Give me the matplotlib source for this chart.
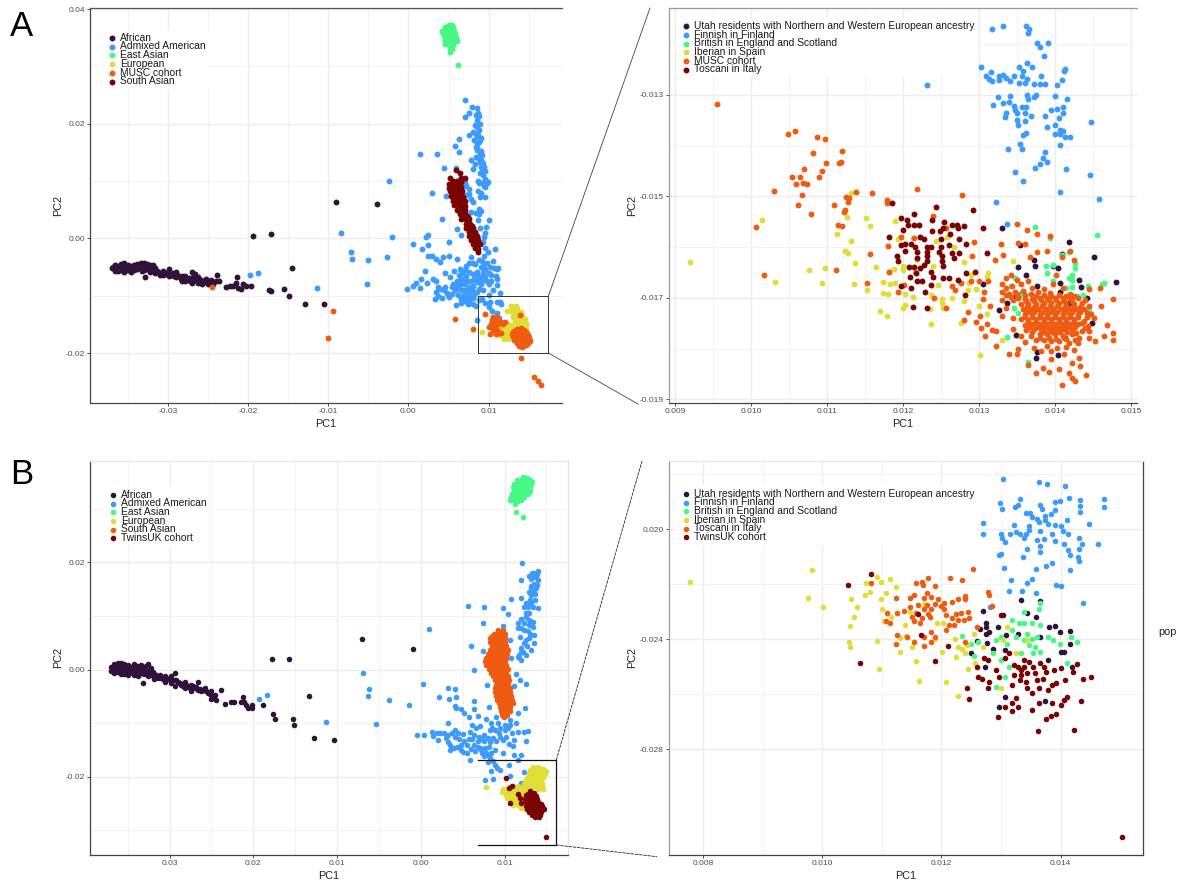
import matplotlib
matplotlib.use('Agg')
import matplotlib.pyplot as plt
from matplotlib.lines import Line2D
import numpy as np

plt.rcParams['font.family'] = ['Liberation Sans', 'DejaVu Sans']

# all PC values below are read off the picture, in units of 0.001
# panel A, overview
a_african = [(-37,-5.1),(-36.6,-4.6),(-36.6,-5.6),(-36.2,-4.8),(-36.2,-5.7),(-35.8,-4.4),(-35.8,-5.3),(-35.4,-4.3),(-35.4,-5),(-35.4,-5.8),(-35,-4.6),(-35,-5.5),(-34.6,-4.8),(-34.6,-5.8),(-34.2,-4.6),(-34.2,-5.5),(-33.8,-4.5),(-33.8,-5.3),(-33.4,-4.3),(-33.4,-5.2),(-33,-4.3),(-33,-5.5),(-32.6,-4.4),(-32.6,-5.4),(-32.9,-6.8),(-32.2,-4.6),(-32.2,-5.8),(-31.8,-4.7),(-31.8,-5.6),(-31.4,-5.6),(-31,-6.3),(-30.6,-5.6),(-30.6,-6.4),(-30.2,-6),(-29.8,-5.3),(-29.8,-6.6),(-29.4,-6.1),(-29,-5.8),(-29,-6.8),(-28.6,-6.5),(-28.2,-6.6),(-28.2,-7.4),(-27.8,-6.5),(-27.8,-7.5),(-27.4,-6.9),(-27,-5.9),(-27,-7.7),(-26.6,-6.2),(-26.6,-7.3),(-26.2,-6.8),(-26.2,-7.7),(-25.7,-7.9),(-25.2,-7),(-25,-8),(-24.6,-7.2),(-24.4,-8),(-24,-7.4),(-23.9,-6.4),(-23.6,-7.5),(-22.8,-8.4),(-22.3,-8.3),(-21.9,-8.3),(-21.5,-7.8),(-21.2,-8.6),(-21.4,-6.8),(-20.9,-8.9),(-20.6,-8),(-20.2,-8.3),(-19.6,-8.3),(-17.4,-9),(-17.1,-9.2),(-15.5,-8.9),(-14.9,-10),(-12.9,-11.4),(-10.5,-11.4),(-14.5,-5.1),(-19.4,0.4),(-17.1,0.7),(-9,6.3),(-3.9,6)]
a_african_core = [(-36.8,-5),(-36.4,-5.2),(-36,-5),(-35.6,-4.8),(-35.6,-5.7),(-35.2,-5.2),(-34.8,-5.1),(-34.4,-5.2),(-34,-5),(-33.6,-4.9),(-33.2,-4.8),(-33.2,-5.6),(-32.8,-4.9),(-32.4,-5),(-32,-5.2),(-31.6,-5.2),(-31.6,-6),(-31.2,-5.9),(-30.8,-6),(-30.4,-6.2),(-30,-6),(-29.6,-6.3),(-29.2,-6.5),(-28.8,-6.3),(-28.4,-7),(-28,-7),(-27.6,-7),(-27.2,-7.4),(-26.8,-6.8),(-26.4,-7.2),(-25.9,-7.3),(-25.5,-7.6),(-24.8,-7.6)]
a_admixed = [(-19.7,-6.4),(-18.7,-6.1),(-11.4,-8.6),(-8.4,1),(-7.2,-2.4),(-7,-3.6),(-5.1,-3.8),(-5.2,-8),(-2.7,-3.2),(-2.1,0.3),(-2.4,10),(-0.2,-8.9),(0.6,-8.3),(0.6,-1),(1,-7.7),(1.4,14.8),(1.5,-8.7),(1.6,-7),(1.7,-1.9),(2.1,-5.6),(2.2,0.2),(2.4,0.6),(2.4,-1.2),(2.3,-7.8),(2.5,-3),(2.9,-3),(3,8),(3.6,14.8),(3.1,-7),(3.5,-3.5),(3.4,-7.5),(3.7,-8.4),(4.2,3.4),(4,-4.1),(4.4,12.3),(4.3,-3.2),(4.6,-6.1),(4.7,7.4),(5,-3),(5,-0.6),(5.2,-6.7),(3.3,-10.6),(4.2,-10.4),(3.5,-9.4),(4.4,-9),(4.9,-9.9),(5.4,-8.4),(5.6,-7.9),(5.7,-5.6),(5.8,16.1),(5.9,12.3),(5.9,-11.6),(6,-3.5),(6.1,1.7),(6.2,-9.9),(6.3,15),(6.3,17.3),(6.4,-5.4),(6.5,-9),(6.6,0.6),(6.9,-7),(7.1,24.2),(7.1,21.2),(7.2,-10.4),(7.5,-4.3),(7.5,18),(7.6,21.9),(7.7,-8.4),(7.8,-3.3),(7.8,13.7),(7.9,22.9),(8,12.2),(8.2,-7),
    (8.5,22.7),(8.4,21.5),(8.8,21.3),(8.3,19.8),(8.6,19.4),(8.9,20),(8.1,18.6),(8.4,18.2),(9,17.5),(8.7,18),(8.2,17.2),(8.5,16.5),(8.8,16.9),(8.4,15.9),(8.6,15.4),(8.9,14.7),(8.4,14.2),(9.2,14.5),(8.9,13.4),(8.3,13),(9.3,13.2),(9,12.5),(9.6,11.7),(8.9,11.4),(9.3,11),(9.5,10.4),(8.7,10),(9.2,9.7),(9.8,9.6),(9.5,8.9),(8.7,8.3),(9,8),(9.6,7.2),(9.9,9.9),(8.8,5.2),(7,9.8),(7.2,9.2),(7.5,8.6),(7.6,7.8),(7.8,6.9),(8,6.4),(8.4,4.5),(8.8,4.3),(9,4.8),(8.7,3.2),(10,3.3),(9.7,2),(8.9,1.8),(9.6,1),(9.4,0.3),(9.3,-0.7),(9.5,-1.6),(10.8,-1.8),(9.9,-2.3),
    (6.5,-7),(7,-5.5),(7.2,-6.5),(7.5,-9.5),(7.8,-7.5),(8,-6.2),(8.2,-9.8),(8.3,-4.5),(8.5,-5.8),(8.6,-7.6),(8.8,-3.7),(8.8,-8.8),(9,-5),(9,-6.7),(9.2,-4),(9.2,-10.5),(9.4,-3),(9.5,-7.3),(9.6,-5.4),(9.8,-4.2),(10,-6),(10,-8),(10.3,-6.3),(10.5,-4),(10.5,-9),(10.7,-5.2),(10.9,-6.5),(11,-5.4),(11.2,-5.1),(11.1,-7),(11,-8.1),(11.4,-9.5),(10.2,-11),(11.1,-11),(11.4,-11),(6.5,-10.5),(6.8,-9),(7.1,-10.9),(7.6,-11),(8,-11.5),(8.4,-11.8),(8.8,-10.8),(9.6,-11.3),(10,-12),(10.4,-12.6),(11,-13),(11.3,-13.9),(8.6,-14.3),(11,-14),(10.7,-14),(11.5,-11.5)]
a_admixed_core = [(3.7,-10),(4,-8.8),(4.6,-8.4),(4.8,-9.5),(5.1,-10.2),(5.4,-9.6),(5.8,-9),(5.9,-8.1),(6.1,-7.5),(6.2,-8.6),(6.3,-6.4),(6.6,-8),(6.7,-6),(6.8,-10),(7,-8),(7.1,-9.4),(7.3,-8.9),(7.4,-7.4),(7.6,-5.8),(7.7,-10.2),(7.9,-9),(8,-8.3),(8.1,-10.4),(8.3,-7.2),(8.5,-9.4),(8.7,-6.5),(8.9,-7.4),(9.1,-8),(9.3,-5.8),(9.3,-9),(9.6,-6.6),(9.8,-7.5),(10.2,-5),(10.3,-7.4),(10.1,-9.8),(9.4,-4.5),(8,-4.2),(7.2,-4.8),(6.6,-11.3),(7.4,-11.4),(8.7,21.9),(8.5,20.6),(8.8,19),(8.5,17.8),(8.9,17.2),(8.6,15.9),(9,15.2),(8.7,14),(9.1,13.7),(9.4,12.5),(9.2,11.7),(8.8,9.6),(9.4,9.2),(8.9,7.3),(7.2,7.6),(7.8,4.6)]
a_east = [(5,37.3),(5.4,37.3),(4.6,36.8),(5.2,36.8),(5.6,36.8),(4.2,36.2),(4.7,36.2),(5.2,36.2),(5.7,36.2),(4.3,35.6),(4.8,35.6),(5.3,35.6),(5.8,35.6),(4.5,35),(5,35),(5.5,35),(5.9,35),(4.6,34.4),(5.1,34.4),(5.6,34.4),(6,34.4),(4.5,33.9),(5,33.9),(5.6,33.8),(5.2,33.3),(5.4,33),(5.2,32.5),(6.2,30.3),(4.9,36.5),(5.4,36.5),(4.5,35.9),(5,35.9),(5.5,35.9),(4.6,35.3),(5.1,35.3),(5.6,35.3),(4.8,34.7),(5.3,34.7),(5.8,34.7),(4.8,34.2),(5.3,34.1)]
a_european = [(12.8,-11.8),(13.4,-11.8),(13,-12.3),(13.6,-12.2),(12.3,-12.7),(12.8,-12.7),(13.4,-12.8),(14,-12.8),(13.6,-13.3),(14.2,-13.4),(13.5,-14),(14,-14),(14.5,-14),(13.6,-14.7),(14.2,-14.7),(14.6,-15),(13.4,-15),(14,-15.3),(14.7,-15.6),(11.4,-15.2),(11.9,-14.9),(12.4,-14.9),(12.9,-15.1),(11.2,-15.8),(11.7,-15.6),(12.2,-15.6),(12.7,-15.6),(13.2,-15.7),(11.1,-16.4),(11.6,-16.3),(12.1,-16.3),(12.6,-16.3),(13.1,-16.3),(11.3,-16.9),(11.8,-17),(12.3,-17),(12.8,-16.9),(11.9,-17.6),(12.4,-17.5),(14.9,-16.8),(15,-17.3),(9.2,-16.3),(11.5,-15.9),(12,-15.9),(12.5,-15.9),(13,-15.9),(11.4,-16.6),(11.9,-16.6),(12.4,-16.6),(12.9,-16.6),(12,-15.3),(12.5,-15.3),(13,-15.5),(13.1,-13.7),(13.8,-13.7),(13.3,-14.4),(13.8,-14.4),(14.3,-14.4),(13.1,-12.5),(13.6,-12.7),(13.2,-13.2),(13.8,-15),(14.3,-15.4),(12,-17.3)]
a_musc = [(-24.5,-8.5),(-9.4,-12.6),(-10,-17.3),(5.8,-14),(8,-15.8),(9.6,-13.2),(13.9,-13.3),(14.1,-20.9),(15.6,-24.1),(16.2,-24.9),(16.5,-25.6),(10.2,-16.6),(10.5,-13.7),(11,-13.7),(10.4,-14.3),(10.9,-14.6),(11.5,-14.5),(12.1,-14.6),(10.3,-15),(10.8,-15.3),(10,-15.5),(10.6,-15.9),(11.1,-16),(11.6,-16.5),(10.9,-16.6),(13.6,-15.8),(14.1,-15.7),(13.2,-16.2),(13.7,-16.2),(14.2,-16.2),(14.6,-16.3),(12.9,-16.7),(13.4,-16.7),(13.9,-16.7),(14.4,-16.7),(14.9,-16.8),(13,-17.2),(13.5,-17.2),(14,-17.2),(14.5,-17.2),(15,-17.3),(13.2,-17.7),(13.7,-17.7),(14.2,-17.7),(14.7,-17.7),(15.1,-17.8),(13.5,-18.2),(14,-18.2),(14.5,-18.2),(14.9,-18.2),(13.8,-18.7),(14.3,-18.8),(14.6,-18.6),(14.2,-19),(13.4,-16),(13.9,-16),(14.4,-16),(13.1,-16.4),(13.6,-16.5),(14.1,-16.5),(14.6,-16.6),(13.2,-17),(13.7,-17),(14.2,-17),(14.7,-17),(13.4,-17.45),(13.9,-17.45),(14.4,-17.45),(14.9,-17.5),(13.7,-18),(14.2,-18),(14.7,-18),(14.1,-18.5),(14.6,-18.3),(10.7,-14),(11.2,-14.2),(10.6,-14.8),(11.2,-14.9),(11.8,-15),(10.3,-15.5),(10.9,-16),(10.6,-15.3),(11.3,-16.5)]
a_south = [(5.9,11.9),(6.4,11.5),(7.1,10.6),(5.2,10.5),(6.5,10.6),(5.1,9.5),(5.6,10),(6.1,10),(6.6,9.8),(5,8.8),(5.5,9),(6,9),(6.5,9),(5.2,8.2),(5.7,8.2),(6.2,8.2),(6.7,8.2),(5.3,7.4),(5.8,7.4),(6.3,7.4),(6.8,7.3),(5.5,6.6),(6,6.6),(6.5,6.6),(7,6.5),(5.7,5.8),(6.2,5.8),(6.7,5.8),(7.1,5.6),(6.1,5),(6.6,5),(7.1,4.9),(6.4,4.2),(6.9,4.2),(7.3,4),(6.6,3.4),(7.1,3.4),(7.6,3.4),(7.2,2.6),(7.7,2.6),(7.2,1.9),(7.7,1.9),(8.1,1.8),(7.5,1.2),(8,1.2),(8.3,1.2),(7.6,0.5),(8.1,0.5),(8.5,0.5),(7.8,-0.2),(8.3,-0.2),(8.7,-0.2),(8.1,-1),(8.6,-1),(8.9,-1),(8.3,-1.7),(8.7,-1.8),(8.7,-2.3),(5.4,9.7),(5.9,9.5),(6.4,9.5),(5.2,9),(5.7,8.6),(6.2,8.6),(6.6,8.6),(5.4,7.8),(5.9,7.8),(6.5,7.8),(5.6,7),(6.2,7),(6.7,7),(5.9,6.2),(6.4,6.2),(6.9,6.2),(6.4,5.4),(6.9,5.4),(6.6,4.6),(7.1,4.5),(6.9,3.8),(7.4,3.7),(7.4,3),(7.5,2.2),(7.9,2.2),(7.8,1.5),(7.9,0.9),(8.3,0.9),(8.1,0.2),(8.5,0.2),(8.4,-0.6),(8.7,-0.6),(8.5,-1.4)]

# panel A, zoomed in
az_utah = [(13.3,-15.63),(14.19,-15.89),(13.54,-15.95),(14.09,-16.13),(14.52,-16.2),(13.72,-16.26),(13.52,-16.39),(13.74,-16.37),(13.98,-16.38),(14.04,-16.42),(14.32,-16.64),(14.8,-16.69),(13.62,-16.54),(13.05,-16.72),(14.07,-16.71),(13.77,-16.76),(14.34,-16.79),(13.55,-16.92),(13.47,-16.98),(14.07,-16.89),(13.37,-17.1),(14.19,-17.11),(14.42,-17.01),(13.27,-17.23),(14.49,-17.5),(13.49,-17.74),(14.13,-17.79),(13.76,-18.07),(13.75,-18.18),(14.04,-18.13)]
az_finnish = [(13.17,-11.71),(13.32,-11.65),(13.62,-11.64),(13.66,-11.71),(13.65,-11.79),(13.77,-11.97),(13.91,-11.97),(13.8,-12.06),(13.86,-12.24),(12.51,-12.32),(13.63,-12.37),(13.03,-12.46),(13.53,-12.46),(13.7,-12.46),(12.88,-12.52),(14.13,-12.49),(14.12,-12.54),(13.16,-12.56),(13.32,-12.6),(13.58,-12.54),(13.09,-12.63),(13.26,-12.62),(13.46,-12.62),(13.57,-12.62),(13.81,-12.63),(13.13,-12.69),(13.26,-12.7),(13.35,-12.67),(13.41,-12.73),(13.63,-12.69),(14.09,-12.7),(13.17,-12.73),(13.53,-12.76),(13.6,-12.77),(13.73,-12.79),(13.8,-12.79),(13.87,-12.79),(14.03,-12.8),(12.32,-12.81),(13.25,-13.05),(13.41,-13.03),(13.63,-13.01),(13.73,-13.05),(13.75,-13),(14,-13.02),(13.65,-13.08),(14.16,-13.08),(13.32,-13.16),(13.4,-13.15),(13.19,-13.2),(13.46,-13.22),(13.57,-13.24),(13.62,-13.24),(13.48,-13.29),(13.95,-13.29),(14.03,-13.27),(14.1,-13.24),(13.35,-13.35),(13.5,-13.36),(13.6,-13.36),(13.87,-13.41),(14.11,-13.35),(13.34,-13.44),(13.69,-13.42),(14.05,-13.45),(13.5,-13.5),(13.61,-13.51),(14.47,-13.54),(13.51,-13.6),(14,-13.59),(13.89,-13.63),(14.07,-13.69),(14.1,-13.71),(13.62,-13.75),(13.58,-13.8),(14,-13.78),(14.06,-13.78),(14.13,-13.84),(14.2,-13.84),(14.06,-13.99),(13.54,-13.96),(13.56,-14.06),(13.38,-14.07),(13.87,-14.12),(13.84,-14.24),(13.89,-14.33),(13.8,-14.37),(13.74,-14.44),(14.15,-14.46),(13.48,-14.52),(14.46,-14.57),(13.58,-14.69),(14.07,-14.92),(14.58,-15.05),(13.23,-15.11),(13.37,-15.54)]
az_british = [(13.74,-15.6),(13.93,-15.82),(14.56,-15.76),(14.09,-16.15),(14.19,-16.1),(13.88,-16.38),(13.97,-16.35),(14.27,-16.31),(14.27,-16.42),(13.89,-16.51),(14.22,-16.54),(14.18,-16.61),(14.23,-16.64),(13.47,-16.61),(13.97,-16.67),(14.15,-16.8),(14.22,-16.78),(13.42,-16.77),(14.44,-16.76),(14.62,-16.72),(14.65,-16.71),(14.37,-16.94),(14.29,-16.97),(13.57,-16.93),(13.46,-17.2),(13.52,-17.3),(14.45,-17.23),(13.37,-17.77),(13.65,-18.27)]
az_iberian = [(9.2,-16.3),(10.15,-15.47),(10.32,-16.69),(10.76,-16.46),(10.97,-16.41),(10.93,-16.7),(11.31,-14.93),(11.26,-15.41),(11.51,-15.43),(11.57,-15.58),(11.13,-15.74),(11.31,-15.87),(11.24,-16.07),(11.27,-16.12),(11.37,-16.31),(11.64,-16.39),(11.9,-15.48),(11.94,-15.84),(12.13,-15.82),(11.35,-16.73),(11.53,-16.84),(11.74,-16.68),(11.74,-16.9),(11.8,-16.93),(11.83,-16.73),(11.9,-16.71),(11.81,-16.48),(11.88,-16.43),(12,-16.37),(12,-16.45),(12.18,-16.25),(12.39,-16.37),(12.16,-16.48),(12.03,-16.92),(12.13,-16.99),(12,-17.2),(12.03,-17.13),(11.7,-17.26),(11.79,-17.36),(12.37,-17.52),(12.35,-17.22),(12.51,-17.03),(12.51,-17.1),(12.52,-17.2),(12.64,-17),(12.46,-16.74),(12.37,-16.94),(12.8,-17.07),(12.85,-16.84),(12.96,-16.83),(12.87,-16.71),(12.9,-16.55),(13.1,-16.58),(13.12,-16.51),(13,-17.15),(13.1,-17.31),(12.76,-17.5),(13.01,-18.13),(13.3,-17.83),(12.44,-15.87),(12.58,-15.8),(12.67,-15.99),(12.8,-16.3),(13.45,-16.27)]
az_musc = [(9.55,-13.18),(10.49,-13.78),(10.58,-13.71),(10.87,-13.84),(10.97,-13.88),(11.2,-14.11),(10.82,-14.14),(11.16,-14.34),(11.18,-14.32),(10.98,-14.35),(10.7,-14.46),(10.94,-14.51),(10.54,-14.61),(10.64,-14.61),(10.89,-14.62),(10.59,-14.76),(10.68,-14.73),(10.74,-14.75),(10.3,-14.89),(10.67,-14.97),(11.38,-14.92),(11.25,-15.01),(11.29,-15.04),(11.59,-14.94),(12.19,-14.86),(12.78,-14.97),(11.79,-15.07),(11.79,-15.14),(11.27,-15.11),(10.62,-15.17),(11.09,-15.17),(11.24,-15.27),(11.22,-15.3),(10.79,-15.35),(12.39,-15.38),(10.07,-15.61),(11.14,-15.56),(11.2,-15.58),(12.57,-15.62),(13.5,-15.54),(13.63,-15.67),(13.76,-15.75),(13.93,-15.78),(12.14,-15.82),(11.98,-15.8),(11.8,-15.97),(12.93,-15.9),(13.29,-15.93),(13.52,-15.91),(13.6,-15.94),(13.76,-16.1),(13.9,-16.07),(14.2,-16.07),(11.57,-16.14),(12.91,-16.18),(13.21,-16.25),(13.31,-16.16),(13.67,-16.2),(14.09,-16.2),(14.25,-16.25),(10.17,-16.55),(11.12,-16.46),(11.82,-16.49),(11.52,-16.7),(11.93,-16.88),(12.01,-16.75),(12.41,-17),(12.57,-17.2),(12.64,-16.76),(12.68,-16.84),(12.76,-16.71),(12.89,-16.67),(13,-16.67),(13.07,-16.89),(13.12,-16.67),(13.05,-17.03),(13.14,-17.15),(12.85,-17.28),(13.02,-17.36),(12.8,-17.43),(12.96,-17.47),(13.1,-17.52),(13.03,-17.59),(13.17,-17.64),(13.22,-17.66),(13.08,-17.75),(13.23,-17.95),(13.39,-18.11),(13.5,-18.11),(13.52,-18.01),(13.65,-18.33),(13.75,-18.48),(13.84,-18.38),(13.92,-18.46),(13.95,-18.21),(14.05,-18.4),(14.09,-18.71),(14.19,-18.47),(14.22,-18.57),(14.27,-18.64),(14.22,-18.29),(14.33,-18.34),(14.41,-18.51),(14.32,-18.18),(14.53,-17.85),(14.64,-17.75),(14.76,-17.7),(14.76,-17.82),(14.76,-17.03),(14.68,-17.54),(14.61,-17.15),(14.59,-16.81),(14.52,-17.39),(14.45,-16.83),
    (13.35,-16.6),(13.42,-16.55),(13.5,-16.65),(13.3,-16.72),(13.36,-16.8),(13.44,-16.76),(13.55,-16.72),(13.65,-16.66),(13.7,-16.8),(13.3,-16.88),(13.4,-16.92),(13.48,-16.88),(13.58,-16.86),(13.68,-16.92),(13.78,-16.88),(13.86,-16.82),(13.93,-16.9),(14.02,-16.55),(13.98,-16.72),(14.1,-16.8),(14.2,-16.92),(14.3,-17),(14.4,-17.05),(13.45,-17.05),(13.52,-17),(13.6,-17.02),(13.7,-17.02),(13.8,-17),(13.9,-17),(14,-17),(14.1,-17),(14.2,-17.02),(14.35,-17.1),(13.55,-17.12),(13.65,-17.12),(13.75,-17.12),(13.85,-17.1),(13.95,-17.1),(14.05,-17.1),(14.15,-17.12),(14.25,-17.12),(14.45,-17.15),(13.35,-17.2),(13.58,-17.22),(13.68,-17.22),(13.78,-17.22),(13.88,-17.22),(13.98,-17.22),(14.08,-17.22),(14.18,-17.22),(14.28,-17.22),(14.38,-17.22),(13.3,-17.35),(13.45,-17.4),(13.6,-17.32),(13.7,-17.32),(13.8,-17.32),(13.9,-17.32),(14,-17.32),(14.1,-17.32),(14.2,-17.32),(14.3,-17.32),(14.48,-17.32),(13.55,-17.42),(13.65,-17.44),(13.75,-17.42),(13.85,-17.42),(13.95,-17.42),(14.05,-17.42),(14.15,-17.42),(14.25,-17.42),(14.38,-17.45),(13.6,-17.54),(13.7,-17.52),(13.8,-17.52),(13.9,-17.52),(14,-17.52),(14.1,-17.52),(14.2,-17.52),(14.3,-17.52),(14.44,-17.55),(13.45,-17.62),(13.62,-17.64),(13.72,-17.62),(13.82,-17.62),(13.92,-17.62),(14.02,-17.62),(14.12,-17.62),(14.22,-17.62),(14.35,-17.65),(14.45,-17.65),(13.55,-17.75),(13.68,-17.75),(13.8,-17.72),(13.9,-17.72),(14,-17.72),(14.1,-17.75),(14.22,-17.72),(14.32,-17.78),(14.45,-17.78),(13.6,-17.86),(13.75,-17.82),(13.85,-17.82),(13.95,-17.85),(14.05,-17.85),(14.18,-17.88),(14.3,-17.88),(13.72,-17.98),(13.9,-17.95),(14.03,-17.98),(14.15,-17.97),(14.25,-18.02),(13.82,-18.05),(13.95,-18.05),(14.12,-18.1)]
az_musc_core = [(13.62,-17.07),(13.72,-17.07),(13.82,-17.05),(13.92,-17.05),(14.02,-17.05),(14.12,-17.06),(14.22,-17.07),(13.63,-17.17),(13.73,-17.17),(13.83,-17.16),(13.93,-17.16),(14.03,-17.16),(14.13,-17.17),(14.23,-17.17),(14.33,-17.18),(13.63,-17.27),(13.73,-17.27),(13.83,-17.27),(13.93,-17.27),(14.03,-17.27),(14.13,-17.27),(14.23,-17.27),(14.33,-17.27),(14.42,-17.3),(13.6,-17.38),(13.7,-17.37),(13.8,-17.37),(13.9,-17.37),(14,-17.37),(14.1,-17.37),(14.2,-17.37),(14.3,-17.38),(14.42,-17.38),(13.65,-17.48),(13.75,-17.47),(13.85,-17.47),(13.95,-17.47),(14.05,-17.47),(14.15,-17.47),(14.25,-17.47),(14.36,-17.5),(13.66,-17.58),(13.76,-17.57),(13.86,-17.57),(13.96,-17.57),(14.06,-17.57),(14.16,-17.57),(14.26,-17.57),(14.4,-17.6),(13.7,-17.68),(13.86,-17.67),(13.96,-17.67),(14.06,-17.67),(14.16,-17.67),(14.28,-17.7),(13.5,-16.95),(13.6,-16.95),(13.75,-16.97),(13.85,-16.95),(13.95,-16.96),(14.05,-16.95),(14.15,-16.97),(14.25,-16.97),(13.35,-16.95),(13.42,-16.98),(13.3,-17.05),(13.8,-17.78),(13.92,-17.78),(14.02,-17.8),(14.14,-17.8),(14.26,-17.82)]
az_toscani = [(11.86,-15.14),(12.44,-15.2),(12.92,-15.26),(12.15,-15.35),(11.97,-15.43),(12.38,-15.46),(12.05,-15.46),(12.54,-15.5),(12.07,-15.56),(12.14,-15.56),(12.21,-15.56),(12.64,-15.56),(12.71,-15.56),(12.8,-15.59),(12.73,-15.62),(13.05,-15.63),(12,-15.66),(12.38,-15.68),(12.49,-15.68),(12.53,-15.63),(12.62,-15.75),(11.82,-15.8),(12.23,-15.81),(12.28,-15.84),(12.5,-15.83),(12.74,-15.83),(12.03,-15.93),(12.1,-15.93),(11.98,-15.95),(12.16,-15.99),(12.31,-15.99),(12.37,-15.99),(12.5,-15.99),(12.6,-15.95),(12.83,-15.94),(12.03,-16.07),(12.18,-16.09),(12.32,-16.09),(12.47,-16.09),(12.65,-16.11),(13.11,-16.11),(11.92,-16.17),(12.18,-16.22),(12.32,-16.18),(12.51,-16.18),(12.74,-16.12),(11.93,-16.27),(12.32,-16.28),(12.51,-16.28),(12.67,-16.22),(12.28,-16.35),(12.08,-16.4),(12.14,-16.4),(12.23,-16.42),(12.37,-16.48),(12.52,-16.38),(12.83,-16.51),(12.95,-16.48),(12.17,-16.51),(12.09,-16.59),(12.4,-16.58),(12.52,-16.6),(12.6,-16.61),(12.19,-16.66),(12.25,-16.66),(12.72,-16.65),(12.37,-16.75),(11.97,-16.76),(12.1,-16.81),(12.29,-16.89),(12.81,-16.95),(12.13,-17.17),(12.31,-17.2)]

# panel B, overview
b_african = [(-37,0.4),(-37,-0.2),(-36.6,1),(-36.6,0),(-36.6,-0.7),(-36.2,1.2),(-36.2,0.3),(-36.2,-0.5),(-35.8,1.2),(-35.8,0.2),(-35.8,-0.8),(-35.4,1.1),(-35.4,0.1),(-35.4,-0.9),(-35,0.8),(-35,-0.1),(-35,-1),(-34.6,0.5),(-34.6,-0.4),(-34.2,1),(-34.2,0),(-34.2,-1),(-33.8,0.7),(-33.8,-0.3),(-33.8,-1.2),(-33.4,0.8),(-33.4,-0.5),(-33,0.4),(-33,-0.8),(-33.2,-2.5),(-32.6,1.1),(-32.6,-0.2),(-32.6,-1.2),(-32.2,0.3),(-32.2,-1),(-31.8,-0.8),(-31.8,-1.7),(-31.4,-1.5),(-31,-1.5),(-30.6,-1.2),(-30.6,-2.3),(-30.2,-1.8),(-29.8,-1.3),(-29.8,-2.6),(-29.4,-0.6),(-29.4,-1.9),(-29.4,-3),(-29,-2.4),(-28.6,-2.8),(-28.2,-2.3),(-28.2,-3.4),(-27.8,-3),(-27.4,-2.8),(-27.4,-4),(-27,-3.4),(-26.6,-2.3),(-26.6,-3.8),(-26.2,-4),(-25.8,-3.4),(-25.4,-4.3),(-25,-4),(-25,-5.5),(-24.6,-4.7),(-24.4,-5.6),(-23.8,-3.9),(-23.4,-6.5),(-22.7,-6),(-22.3,-6),(-21.5,-6.1),(-21.2,-5.2),(-21.1,-6),(-20.9,-6.6),(-20.6,-7.1),(-20.2,-6.6),(-20.2,-7.2),(-18.9,-6.6),(-17.7,-8.3),(-17.4,-9.2),(-15.3,-9.3),(-15.1,-10.4),(-13.4,-5),(-12.7,-12.8),(-10.4,-13.1),(-17.8,2),(-15.8,2),(-7,5.7),(-0.9,3.8)]
b_african_core = [(-36.8,0.2),(-36.4,0.6),(-36.4,-0.2),(-36,0.8),(-36,-0.2),(-35.6,0.7),(-35.6,-0.3),(-35.2,0.6),(-35.2,-0.4),(-34.8,0.3),(-34.8,-0.6),(-34.4,0.3),(-34.4,-0.6),(-34,0.3),(-34,-0.6),(-33.6,0.2),(-33.6,-0.8),(-33.2,0.2),(-33.2,-0.7),(-32.8,0.6),(-32.8,-0.5),(-32.4,-0.5),(-32,-0.5),(-31.6,-1.1),(-31.2,-1),(-30.8,-1.7),(-30.4,-1.6),(-30,-1.7),(-29.6,-2),(-29.2,-2),(-28.8,-2.6),(-28.4,-3),(-28,-2.8),(-27.6,-3.4),(-27.2,-3.1),(-26.8,-3.2),(-26.4,-3.6),(-26,-3.8),(-25.6,-4),(-25.2,-4.5),(-24.8,-4.9)]
b_admixed = [(-19.3,-5.5),(-18.4,-4.7),(-11.3,-9.7),(-6.9,-0.6),(-6.2,-3.7),(-6.3,-5),(-3.8,-5.7),(-5.4,-10.1),(-1.4,-6.6),(1,7.5),(0.3,-2.7),(-0.5,-12.3),(0.4,-12.3),(2.2,-5.1),(3.3,-3.5),(4.1,-3.7),(3.4,-5.5),(4.2,-5.1),(4.1,-6.8),(4.2,-7.2),(3.3,-9.9),(4.8,-7.4),(5.1,-8.1),(5.7,-8.8),(6.3,-7.4),(6.4,-5.8),(6.8,-8.6),(6.4,0),(6,4.3),(5.6,11.9),(7.6,11.6),(7.4,8.7),(7.4,3.4),(7.9,-2.9),(8.1,-6.9),(9.8,11.4),(10.4,10.3),(9.8,8.1),
    (1.35,-11.7),(1.9,-11.9),(1.4,-12.4),(2.1,-13.1),(2.3,-11.9),(2.8,-11.9),(3.2,-12.2),(3.7,-11.9),(4.1,-11.2),(4.4,-11.9),(4.1,-12.5),(3.5,-14),(3.9,-14.7),(3.5,-15),(5,-15.3),(4.8,-14),(5.5,-14),(5.5,-15.6),(5.9,-16.8),(5.9,-11.6),(6.4,-12.2),(6.4,-14),(6.8,-13.4),(7.1,-14.7),(7.1,-10.6),(7.5,-12.2),(7.5,-13.4),(7.7,-14.7),(8,-15.9),(7.3,-15.6),(8.2,-16.5),(8.2,-11.2),(8.4,-10),(8.6,-12.8),(8.9,-11.2),(9,-13.4),(9.3,-11.9),(9.5,-10.9),(9.8,-13.1),(9.8,-15.6),(10,-11.2),(10.2,-12.5),(10.7,-10.3),(10.9,-11.9),(11,-14.3),(11.1,-13.1),(11.4,-10),(11.6,-11.6),(12.3,-11.6),(12.8,-11.4),(12.5,-13.4),(12,-15.9),(11.1,-15.9),(11.6,-16.8),(10.5,-17.8),(9.5,-18.7),(8.4,-19),(8.6,-20.4),(7.7,-20.7),(10.7,-19.9),(12.3,-19.1),(12,-21.1),(8.9,-17.8),(9.1,-18.4),
    (12.1,19.8),(14,18.4),(13.5,18),(12.9,17.5),(13.8,17.3),(13.2,16.8),(11.9,16.7),(14,16.7),(13.2,15.5),(13.8,15.2),(12.9,14.5),(13.5,14.5),(13.2,13.9),(12,13.3),(10.8,13.1),(12.5,12.5),(13.2,12.5),(13.6,13),(12.3,11.6),(12.8,11.6),(14,11.4),(12.5,10.5),(12.9,10.5),(12,9.4),(12.9,9.3),(13.4,8.9),(11.6,8.6),(12,7.7),(12.9,8.3),(11.6,7.7),(13.4,8),(12.3,7.4),(13.5,6.5),(12.5,5.5),(11.8,6.1),(12.9,5.8),(13.5,4.9),(12.3,4.9),(12,4),(13.2,3.7),(11.7,2.7),(12.5,2.7),(12,1.8),(11.6,2.4),(10.7,5.5),(10.2,4.3),(10.8,2.1),(11.4,-0.9),(11.8,-2),(11.1,-3),(12.5,-2.7),(12.4,-7.2),(11.6,-8.1),(10.7,-9.4)]
b_admixed_core = [(13.3,18),(13.9,17.8),(13.4,17.2),(13.5,16),(13.9,15.8),(13.1,15),(13.6,14),(13,13),(12.7,12.2),(13.4,11.6),(12.6,9.8),(13,9),(12.3,8.6),(12.8,7.2),(13,6.6),(12.2,3.2),(11.9,3.3),(12.7,4.4),(3,-12.7),(3.3,-13.5),(4.5,-13),(4.3,-14.5),(4.8,-15),(5.2,-13.3),(5.7,-13),(6,-14.8),(6.1,-13),(6.5,-15.2),(6.8,-14.5),(7,-12.5),(7.3,-13),(7.2,-15),(7.6,-16.1),(7.8,-15.5),(8.1,-14.5),(8,-12.7),(8.3,-13.5),(8.4,-15.5),(8.6,-17),(8.5,-11),(9.2,-10),(9.5,-12.5),(10,-10.3),(10.4,-11),(10.5,-13.8),(5,-12),(6.1,-10.4),(7.8,-9.3),(9,-8.8),(6.6,-11),(8.8,-15),(8,-17.2)]
b_east = [(12.2,36),(12.7,35.8),(11.5,35.4),(12,35.3),(12.5,35.3),(13,35.3),(13.3,35),(11.1,34.7),(11.6,34.7),(12.1,34.7),(12.6,34.7),(13.1,34.6),(11,34.1),(11.5,34.1),(12,34.1),(12.5,34.1),(13,34.1),(11.1,33.4),(11.6,33.4),(12.1,33.4),(12.6,33.4),(13,33.3),(10.9,32.8),(11.4,32.8),(11.9,32.8),(12.4,32.8),(12.8,32.7),(10.8,32.2),(11.3,32.2),(11.8,32.2),(12.3,32.2),(10.6,31.6),(11.1,31.4),(11.6,31.4),(11.9,31.6),(11.2,30.9),(11.4,29.3),(12.2,28.4),(11.8,35.1),(12.3,35),(12.8,35),(11.3,34.4),(11.8,34.4),(12.3,34.4),(12.8,34.4),(11.3,33.8),(11.8,33.8),(12.3,33.8),(12.8,33.8),(11.2,33.1),(11.7,33.1),(12.2,33.1),(12.7,33.1),(11.1,32.5),(11.6,32.5),(12.1,32.5),(11,32),(11.5,31.9)]
b_european = [(13.4,-18.2),(14,-18.2),(14.6,-18.5),(15,-18.9),(13,-18.8),(13.6,-18.8),(14.2,-18.9),(14.8,-19.4),(12.9,-19.5),(13.4,-19.5),(14,-19.5),(14.6,-20),(12.7,-20.2),(13.2,-20.1),(13.8,-20.2),(14.4,-20.6),(12.4,-20.8),(13,-20.8),(13.6,-20.8),(14.2,-21.2),(12.3,-21.4),(12.8,-21.4),(13.4,-21.4),(14,-21.5),(14.5,-21.8),(10.5,-22),(11,-21.8),(11.6,-21.8),(12.2,-22),(12.7,-22),(13.3,-22.1),(14,-22.2),(14.6,-22.2),(9.8,-22.2),(9.7,-22.8),(10.3,-22.8),(10.9,-22.7),(11.5,-22.7),(12.1,-22.7),(12.7,-22.7),(10.2,-23.4),(10.8,-23.4),(11.4,-23.4),(12,-23.4),(10.3,-24),(10.9,-24),(11.5,-24),(12.1,-24),(10.7,-24.7),(11.3,-24.7),(11.9,-24.7),(11,-25.3),(11.6,-25.3),(12,-25.8),(12.4,-26),(7.8,-22),(13.7,-18.5),(14.3,-18.5),(13.3,-19.1),(13.9,-19.2),(14.5,-19.2),(13.1,-19.8),(13.7,-19.8),(14.3,-19.8),(12.9,-20.5),(13.5,-20.5),(14.1,-20.5),(12.7,-21.1),(13.3,-21.1),(13.9,-21.1),(14.5,-21.2),(12.6,-21.7),(13.1,-21.7),(13.7,-21.8),(14.3,-21.8),(10.2,-22.4),(10.7,-22.2),(11.3,-22.2),(11.9,-22.3),(12.4,-22.3),(10,-23),(10.6,-23),(11.2,-23),(11.8,-23),(10.5,-23.7),(11.1,-23.7),(11.7,-23.7),(12.3,-23.7),(10.6,-24.3),(11.2,-24.3),(11.8,-24.3),(11.1,-25),(11.6,-24.9)]
b_south = [(9.2,7.3),(9.8,7.3),(8.7,6.6),(9.4,6.6),(10,6.6),(8.2,5.8),(8.8,5.8),(9.4,5.8),(10,5.8),(8.2,5.1),(8.8,5.1),(9.4,5.1),(10,5.1),(8.5,4.3),(9.1,4.3),(9.7,4.3),(10.2,4.3),(8.2,3.6),(8.8,3.6),(9.4,3.6),(10,3.6),(10.4,3.6),(8,2.9),(8.6,2.9),(9.2,2.9),(9.8,2.9),(10.3,2.9),(7.8,2.2),(8.4,2.2),(9,2.2),(9.6,2.2),(10.2,2.2),(7.7,1.5),(8.3,1.5),(8.9,1.5),(9.5,1.5),(10.1,1.5),(7.8,0.8),(8.4,0.8),(9,0.8),(9.6,0.8),(10.2,0.8),(8.1,0.1),(8.7,0.1),(9.3,0.1),(9.9,0.1),(10.4,0.1),(8.4,-0.6),(9,-0.6),(9.6,-0.6),(10.2,-0.6),(8.6,-1.3),(9.2,-1.3),(9.8,-1.3),(10.4,-1.3),(8.8,-2),(9.4,-2),(10,-2),(10.5,-2),(9,-2.8),(9.6,-2.8),(10.2,-2.8),(8.9,-3.5),(9.5,-3.5),(10.1,-3.5),(10.6,-3.5),(8.9,-4.2),(9.5,-4.2),(10.1,-4.2),(10.7,-4.2),(9,-4.9),(9.6,-4.9),(10.2,-4.9),(10.8,-4.9),(9.1,-5.6),(9.7,-5.6),(10.3,-5.6),(10.9,-5.6),(9.3,-6.3),(9.9,-6.3),(10.5,-6.3),(11,-6.3),(9.4,-7),(10,-7),(10.6,-7),(9.6,-7.7),(10.2,-7.7),(10.7,-7.7),(9.7,-8.4),(10.3,-8.4),(9.9,-8.9)]
b_south_core = [(9.1,6.9),(9.7,6.9),(8.5,6.2),(9.1,6.2),(9.7,6.2),(8.5,5.4),(9.1,5.4),(9.7,5.4),(8.8,4.7),(9.4,4.7),(8.5,3.9),(9.1,3.9),(9.7,3.9),(8.3,3.2),(8.9,3.2),(9.5,3.2),(10.1,3.2),(8.1,2.5),(8.7,2.5),(9.3,2.5),(9.9,2.5),(8,1.8),(8.6,1.8),(9.2,1.8),(9.8,1.8),(8.1,1.1),(8.7,1.1),(9.3,1.1),(9.9,1.1),(8.4,0.4),(9,0.4),(9.6,0.4),(10.2,0.4),(8.7,-0.2),(9.3,-0.2),(9.9,-0.2),(8.9,-1),(9.5,-1),(10.1,-1),(9.1,-1.7),(9.7,-1.7),(10.3,-1.7),(9.3,-2.4),(9.9,-2.4),(10.4,-2.4),(9.3,-3.1),(9.9,-3.1),(10.4,-3.1),(9.2,-3.9),(9.8,-3.9),(10.4,-3.9),(9.3,-4.6),(9.9,-4.6),(10.5,-4.6),(9.4,-5.3),(10,-5.3),(10.6,-5.3),(9.6,-6),(10.2,-6),(10.8,-6),(9.7,-6.7),(10.3,-6.7),(9.9,-7.4),(10.5,-7.4),(10,-8.1)]
b_twins = [(10.2,-20.2),(10.5,-22.1),(10.9,-21.8),(10.7,-24.9),(15,-31.3),(11.6,-23.2),(11.8,-24),(12,-24.9),(13,-22.7),(13.5,-23),(12.6,-23.5),(13.1,-23.5),(13.7,-23.6),(12.4,-24.2),(12.9,-24.2),(13.4,-24.2),(13.9,-24.2),(12.5,-24.8),(13,-24.8),(13.5,-24.8),(14,-24.8),(14.4,-25),(12.5,-25.4),(13,-25.4),(13.5,-25.4),(14,-25.4),(14.5,-25.4),(12.7,-26),(13.2,-26),(13.7,-26),(14.2,-26),(14.7,-26),(12.9,-26.5),(13.4,-26.5),(13.9,-26.5),(14.4,-26.5),(13.3,-27.1),(13.8,-27.1),(14.2,-27.1),(14.1,-27.6),(13.6,-27.6),(12.8,-23.2),(13.4,-23.4),(12.8,-24.5),(13.3,-24.5),(13.8,-24.5),(12.7,-25.1),(13.2,-25.1),(13.8,-25.1),(14.3,-25.2),(12.9,-25.7),(13.4,-25.7),(14,-25.7),(14.5,-25.7),(13.1,-26.3),(13.6,-26.3),(14.2,-26.3),(13.5,-26.8),(14,-26.8),(12.8,-23.9),(13.3,-23.9)]

# panel B, zoomed in
bz_utah = [(13.34,-22.58),(13.65,-22.62),(12.7,-22.96),(13.44,-23.05),(13.59,-23.2),(12.75,-23.43),(12.75,-23.55),(12.65,-23.63),(13.03,-23.12),(12.94,-23.55),(12.74,-23.8),(12.8,-23.73),(13.08,-23.86),(12.6,-24.08),(12.76,-24.13),(13.28,-23.8),(13.66,-23.92),(13.81,-23.55),(13.91,-23.53),(13.98,-23.73),(14.15,-23.7),(14.16,-24.19),(14,-24.46),(14.05,-24.48),(12.5,-24.5),(12.86,-24.34),(13.06,-24.4),(13.78,-24.76),(14.19,-25),(13.06,-26.11),(12.97,-26.45),(13.73,-26.24),(12.73,-25)]
bz_finnish = [(13.04,-18.18),(13.63,-18.31),(13.77,-18.38),(14.08,-18.43),(14.14,-18.86),(14.33,-18.94),(14.73,-18.92),(13.32,-18.91),(12.98,-19.07),(13.28,-19.11),(13.24,-19.2),(13.9,-19.01),(13.98,-19),(13.66,-19.11),(13.69,-19.26),(13.01,-19.26),(14.33,-19.17),(14.72,-19.2),(14.33,-19.4),(13.91,-19.32),(13.83,-19.47),(13.41,-19.41),(13.49,-19.42),(13.52,-19.56),(13.74,-19.54),(13.6,-19.65),(13.74,-19.69),(12.69,-19.78),(13.22,-19.87),(13.46,-19.9),(13.63,-19.75),(13.78,-19.83),(13.91,-19.87),(14,-19.88),(14.1,-19.69),(14.47,-19.83),(12.7,-20.17),(13,-20.17),(13.15,-20.19),(13.25,-20.11),(13.32,-20.17),(13.41,-20.19),(13.46,-20.05),(13.65,-20.07),(13.85,-20.17),(14.04,-20.08),(14.13,-20.17),(12.41,-20.24),(13.01,-20.31),(13.38,-20.33),(13.6,-20.41),(13.72,-20.37),(13.9,-20.45),(14.31,-20.33),(13.06,-20.47),(13.65,-20.63),(14.05,-20.56),(14.35,-20.53),(14.62,-20.53),(13.43,-20.71),(14.12,-20.75),(14.31,-20.74),(13.65,-20.83),(13,-20.89),(12.97,-20.95),(13.37,-21.02),(14.15,-20.95),(14.29,-21.02),(14.3,-21.17),(13.85,-21.22),(13.75,-21.35),(13.05,-21.41),(13.59,-21.47),(14.15,-21.49),(13.51,-21.8),(13.17,-21.86),(13.43,-21.96),(13.92,-22.02),(14,-22.08),(13.13,-22.25),(13.35,-22.25),(13.58,-22.31),(14.37,-22.68),(12.81,-22.85)]
bz_british = [(13.65,-22.67),(13.63,-22.89),(13.38,-23.02),(13.18,-23.31),(13.3,-23.43),(13.39,-23.41),(13.51,-23.43),(13.66,-23.49),(12.34,-23.89),(12.49,-24.16),(12.62,-24.1),(12.54,-24.62),(12.91,-24.03),(13,-23.92),(13.1,-24.16),(13.18,-23.67),(13.25,-23.92),(13.38,-24.03),(13.44,-23.8),(13.51,-23.98),(13.6,-23.92),(13.47,-24.22),(13.57,-24.28),(13.34,-24.52),(13.54,-24.52),(13.66,-24.46),(13.78,-23.92),(13.87,-24.03),(13.98,-24.16),(14.17,-23.92),(14.27,-24.12),(14.1,-24.88),(12.87,-24.52),(13,-24.76),(13.13,-25),(13.06,-25.37),(12.91,-25.73)]
bz_iberian = [(7.79,-21.92),(9.83,-21.49),(9.76,-22.49),(10.02,-22.84),(10.74,-21.95),(10.92,-21.75),(10.99,-21.92),(11.13,-21.82),(11.23,-22.1),(11.07,-22.31),(10.8,-22.3),(10.72,-22.38),(10.49,-22.54),(10.59,-22.83),(10.99,-22.56),(10.53,-23.19),(10.47,-23.54),(11,-22.89),(11.04,-23.35),(11.16,-23.19),(11.38,-23.47),(11.48,-23.01),(11.7,-22.71),(11.92,-23.41),(12.02,-23.41),(10.45,-24.12),(10.47,-24.28),(10.92,-24.08),(11.3,-23.97),(11.3,-24.46),(11.51,-24.28),(11.41,-23.89),(11.89,-24.01),(12.01,-24.46),(11.58,-24.81),(10.95,-25.1),(11.63,-25.51),(12.08,-25.57),(12.28,-26.08),(12.24,-24.66),(12.27,-24.28),(12.34,-24.37),(12.4,-24.52),(12.43,-24.22),(12.54,-23.82),(12.7,-24.28),(12.44,-25.08),(12.56,-24.88),(13,-25.79),(13.1,-23.55),(13.44,-24.03),(13.25,-24.52),(13.03,-24.03),(12.23,-24)]
bz_toscani = [(12.53,-21.46),(12.15,-21.78),(12.34,-21.85),(11.78,-21.78),(11.58,-21.96),(11.67,-21.92),(11.69,-22.02),(11.89,-22.08),(10.82,-21.95),(12.78,-22.28),(12.8,-22.38),(11.76,-22.32),(11.54,-22.4),(11.7,-22.5),(11.82,-22.47),(11.95,-22.53),(11.23,-22.5),(11.48,-22.49),(12.4,-22.44),(12.27,-22.53),(12.18,-22.65),(12.05,-22.67),(12.4,-22.55),(11.61,-22.77),(11.75,-22.77),(11.89,-22.71),(11.99,-22.79),(12.84,-22.8),(11.47,-22.85),(11.7,-22.92),(11.83,-22.91),(12.05,-22.92),(11.08,-23.04),(11.26,-23.04),(11.37,-22.98),(11.58,-23.04),(11.77,-23.09),(12.08,-23.13),(12.24,-23.07),(12.33,-23.04),(12.45,-23.02),(11.07,-23.34),(11.13,-23.43),(11.51,-23.19),(11.67,-23.25),(11.54,-23.35),(11.64,-23.41),(11.8,-23.19),(12.18,-23.25),(12.27,-23.31),(12.37,-23.31),(12.46,-23.25),(12.12,-23.49),(12.08,-23.65),(12.21,-23.49),(11.26,-23.85),(11.42,-23.91),(11.23,-24.19),(11.54,-24.09),(11.7,-23.91),(11.83,-23.73),(11.89,-23.91),(11.83,-24.09),(11.7,-24.25),(12.6,-23.55),(12.4,-24.09)]
bz_twins = [(10.2,-20.22),(10.82,-21.62),(10.43,-22.03),(11.61,-23.07),(11.65,-23.85),(10.64,-24.88),(11.89,-24.8),(12.11,-24.25),(15.02,-31.2),(14.23,-27.3),(13.62,-27.32),(12.94,-26.82),(13.76,-26.91),(13.84,-26.79),(13.92,-26.72),(12.46,-26.16),(12.42,-25.76),(14.34,-26.25),(14.5,-25.39),(14.37,-25.43),(14.28,-24.92),(12.71,-24.7),(12.78,-24.74),(12.59,-25),(12.92,-25.12),(12.62,-25.37),(12.68,-25.44),(12.8,-25.55),(12.78,-25.79),(12.97,-25.37),(13.06,-24.7),(13,-23.11),(13.14,-24.52),(13.22,-24.94),(13.22,-25.31),(13.19,-25.67),(13.25,-26.15),(13.19,-26.33),(13.28,-26.45),(13.06,-26.45),(13.19,-26.6),(13.34,-25.12),(13.38,-24.76),(13.31,-25.49),(13.47,-24.82),(13.44,-25.24),(13.44,-25.79),(13.51,-25.97),(13.51,-26.57),(13.54,-25),(13.57,-25.24),(13.6,-25.49),(13.63,-25.79),(13.63,-26.33),(13.66,-24.88),(13.72,-25),(13.76,-25.18),(13.7,-25.43),(13.79,-25.85),(13.85,-25.67),(13.88,-25.12),(14,-25.06),(13.92,-25.61),(14.05,-26.21),(14,-26.39),(13.85,-26.33),(14.08,-25.49),(14.1,-26.09),(14.2,-25.18),(13.38,-25),(13.28,-25),(13.41,-25.55),(13.34,-25.31)]

labels_a = ['African', 'Admixed American', 'East Asian', 'European', 'MUSC cohort', 'South Asian']
labels_az = ['Utah residents with Northern and Western European ancestry', 'Finnish in Finland', 'British in England and Scotland', 'Iberian in Spain', 'MUSC cohort', 'Toscani in Italy']
labels_b = ['African', 'Admixed American', 'East Asian', 'European', 'South Asian', 'TwinsUK cohort']
labels_bz = ['Utah residents with Northern and Western European ancestry', 'Finnish in Finland', 'British in England and Scotland', 'Iberian in Spain', 'Toscani in Italy', 'TwinsUK cohort']

colors = ['#30123B', '#3E9BFE', '#46F884', '#E1DD37', '#F05B12', '#7A0403']

W, H = 1182, 883
fig = plt.figure(figsize=(W / 100, H / 100), dpi=100)


def panel(box, series, labels, xlim, ylim, xticks, xticklabels, yticks, yticklabels, xminor, yminor, legend_at, size=18):
    l, t, r, b = box
    ax = fig.add_axes([l / W, 1 - b / H, (r - l) / W, (b - t) / H])
    for pts, lab, c in zip(series, labels, colors):
        arr = np.array(pts) / 1000
        ax.scatter(arr[:, 0], arr[:, 1], s=size, color=c, linewidths=0, label=lab, zorder=3)
    ax.set_xlim(xlim)
    ax.set_ylim(ylim)
    ax.set_xticks(xticks, xticklabels)
    ax.set_yticks(yticks, yticklabels)
    ax.set_xticks(xminor, minor=True)
    ax.set_yticks(yminor, minor=True)
    ax.grid(True, which='major', color='#EDEDED', lw=1.0, zorder=0)
    ax.grid(True, which='minor', color='#F3F3F3', lw=0.7, zorder=0)
    ax.set_axisbelow(True)
    ax.tick_params(which='major', labelsize=6, labelcolor='#4D4D4D', length=2.2, width=0.6, color='#333333', pad=1.5)
    ax.tick_params(which='minor', length=0)
    ax.set_xlabel('PC1', fontsize=7.8, labelpad=2.5, color='#222222')
    ax.set_ylabel('PC2', fontsize=7.8, labelpad=2, color='#222222')
    leg = ax.legend(loc='upper left', bbox_to_anchor=legend_at, borderaxespad=0, borderpad=0.3, frameon=True,
                    framealpha=1, edgecolor='none', fontsize=7.38, labelspacing=-0.128, handletextpad=0.15,
                    handlelength=1.3, scatterpoints=1)
    leg.set_zorder(5)
    for txt in leg.get_texts():
        txt.set_color('#1A1A1A')
    return ax


ax1 = panel((90, 8, 562, 403), [a_african + a_african_core, a_admixed + a_admixed_core, a_east, a_european, a_musc, a_south], labels_a,
            (-0.0397, 0.01915), (-0.0287, 0.0402),
            [-0.03, -0.02, -0.01, 0.0, 0.01], ['-0.03', '-0.02', '-0.01', '0.00', '0.01'],
            [-0.02, 0.0, 0.02, 0.04], ['-0.02', '0.00', '0.02', '0.04'],
            [-0.035, -0.025, -0.015, -0.005, 0.005, 0.015], [-0.01, 0.01, 0.03], (0.026, 0.945))
ax2 = panel((669, 8, 1137, 403), [az_utah, az_finnish, az_british, az_iberian, az_musc + az_musc_core, az_toscani], labels_az,
            (0.00892, 0.01508), (-0.01907, -0.01129),
            [0.009, 0.010, 0.011, 0.012, 0.013, 0.014, 0.015], ['0.009', '0.010', '0.011', '0.012', '0.013', '0.014', '0.015'],
            [-0.019, -0.017, -0.015, -0.013], ['-0.019', '-0.017', '-0.015', '-0.013'],
            [0.0095, 0.0105, 0.0115, 0.0125, 0.0135, 0.0145], [-0.018, -0.016, -0.014, -0.012], (0.0145, 0.975))
ax3 = panel((90, 461, 568, 855), [b_african + b_african_core, b_admixed + b_admixed_core, b_east, b_european, b_south + b_south_core, b_twins], labels_b,
            (-0.0395, 0.01757), (-0.0346, 0.0389),
            [-0.03, -0.02, -0.01, 0.0, 0.01], ['0.03', '0.02', '0.01', '0.00', '0.01'],
            [-0.02, 0.0, 0.02], ['-0.02', '0.00', '0.02'],
            [-0.035, -0.025, -0.015, -0.005, 0.005, 0.015], [-0.03, -0.01, 0.01, 0.03], (0.028, 0.935), size=16)
ax4 = panel((669, 461, 1143, 855), [bz_utah, bz_finnish, bz_british, bz_iberian, bz_toscani, bz_twins], labels_bz,
            (0.00743, 0.01538), (-0.03184, -0.01753),
            [0.008, 0.010, 0.012, 0.014], ['0.008', '0.010', '0.012', '0.014'],
            [-0.028, -0.024, -0.020], ['-0.028', '-0.024', '0.020'],
            [0.009, 0.011, 0.013], [-0.026, -0.022, -0.018], (0.0145, 0.938), size=16)

# frames differ a bit from panel to panel
for ax, top, left, right, bottom in [(ax1, '#555555', '#444444', None, '#444444'),
                                     (ax2, '#999999', '#999999', None, '#444444'),
                                     (ax3, '#E4E4E4', '#444444', '#E4E4E4', '#444444'),
                                     (ax4, '#E4E4E4', '#999999', '#444444', '#444444')]:
    for name, col in [('top', top), ('left', left), ('right', right), ('bottom', bottom)]:
        if col is None:
            ax.spines[name].set_visible(False)
        else:
            ax.spines[name].set_color(col)
            ax.spines[name].set_linewidth(0.9)


def fig_line(xs, ys, color='#222222', lw=0.7, ls='-'):
    fig.add_artist(Line2D([x / W for x in xs], [1 - y / H for y in ys], color=color, lw=lw, ls=ls, zorder=6))


# zoom boxes and the lines out to the right panels
fig_line([477.6, 548.4, 548.4, 477.6, 477.6], [296, 296, 353, 353, 296], color='#333333', lw=0.7)
fig_line([548.4, 650], [296, 8], color='#444444', lw=0.6)
fig_line([548.4, 638], [353, 404], color='#444444', lw=0.6)
fig_line([477.6, 556.3, 556.3, 477.6], [760, 760, 845, 845], color='#111111', lw=0.9)
fig_line([556.3, 642], [760, 461], lw=0.6, ls=(0, (4, 1)))
fig_line([556.3, 657], [845, 856.7], lw=0.6, ls=(0, (4, 1)))

fig.text(10 / W, 1 - 36 / H, 'A', fontsize=25, color='black')
fig.text(10 / W, 1 - 484 / H, 'B', fontsize=25, color='black')
fig.text(1158 / W, 1 - 635 / H, 'pop', fontsize=7.8, color='#222222')

fig.savefig('out.png', dpi=100)
